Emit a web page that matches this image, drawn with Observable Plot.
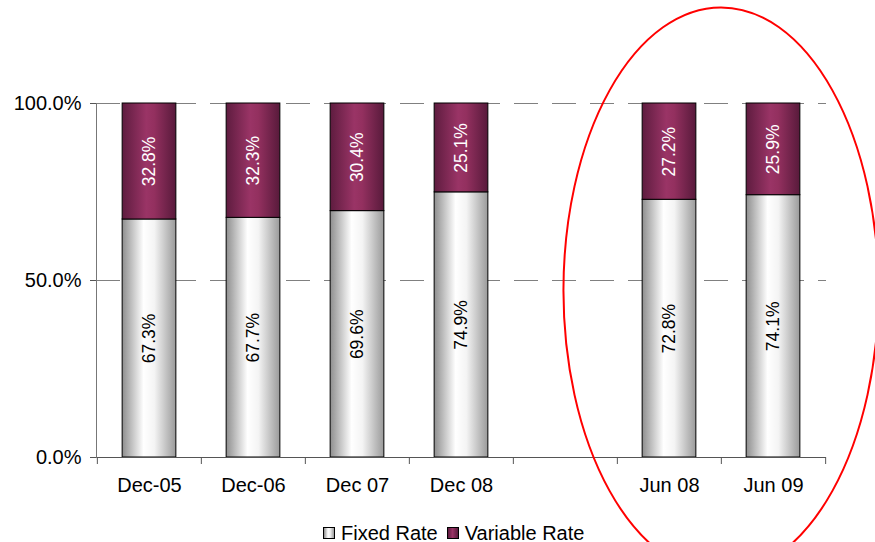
<!DOCTYPE html>
<html><head><meta charset="utf-8">
<script src="https://cdn.jsdelivr.net/npm/d3@7"></script>
<script src="https://cdn.jsdelivr.net/npm/@observablehq/plot@0.6"></script>
<style>
html,body{margin:0;padding:0;background:#fff;}
body{width:875px;height:542px;position:relative;overflow:hidden;font-family:"Liberation Sans",Arial,sans-serif;}
#chart svg{overflow:visible;display:block;}
.legend{position:absolute;left:323px;top:520px;height:26px;display:flex;align-items:center;font-size:20px;color:#000;white-space:nowrap;}
.legend .sw{width:10px;height:10px;border:1px solid #000;margin-right:6px;}
.legend .item{display:flex;align-items:center;margin-right:9px;}
</style></head><body>
<div id="chart"></div>
<div class="legend" id="legend"></div>
<script>
// ---- data ----
const categories = ["Dec-05", "Dec-06", "Dec 07", "Dec 08", "", "Jun 08", "Jun 09"];
const fixedRate = [67.3, 67.7, 69.6, 74.9, null, 72.8, 74.1];
const variableRate = [32.8, 32.3, 30.4, 25.1, null, 27.2, 25.9];
const seriesNames = ["Fixed Rate", "Variable Rate"];
const yTicks = [0, 0.5, 1];
const gridTicks = [0.5, 1];
// highlight annotation (data units): centred on the Jun 08 / Jun 09 boundary
const highlight = {between: ["Jun 08", "Jun 09"], y: 0.47, ryUnits: 0.8, rxBands: 1.515};

// ---- layout ----
const W = 875, H = 515, mL = 96, mR = 49, mT = 103, mB = 58;
const step = (W - mL - mR) / categories.length;
const barW = 54;
const inset = (step - barW) / 2;

const rows = [];
categories.forEach((c, i) => {
  if (fixedRate[i] == null) return;
  const tot = fixedRate[i] + variableRate[i];
  const f = fixedRate[i] / tot;
  rows.push({cat: c, series: seriesNames[0], value: fixedRate[i], y1: 0, y2: f});
  rows.push({cat: c, series: seriesNames[1], value: variableRate[i], y1: f, y2: 1});
});
const fixedRows = rows.filter(d => d.series === seriesNames[0]);
const varRows = rows.filter(d => d.series === seriesNames[1]);

const boundaries = categories.map((c, i) => ({cat: c, dx: -step / 2}))
  .concat([{cat: categories[categories.length - 1], dx: step / 2}]);

const chart = Plot.plot({
  width: W, height: H,
  marginLeft: mL, marginRight: mR, marginTop: mT, marginBottom: mB,
  style: {fontFamily: "'Liberation Sans', Arial, sans-serif", background: "transparent", overflow: "visible"},
  x: {type: "band", domain: categories, padding: 0},
  y: {domain: [0, 1]},
  marks: [
    Plot.ruleY(gridTicks, {stroke: "#808080", strokeWidth: 1, strokeDasharray: "24,14"}),
    Plot.rectY(fixedRows, {x: "cat", y1: "y1", y2: "y2", fill: "url(#gFixed)", stroke: "#000", strokeWidth: 1, insetLeft: inset, insetRight: inset}),
    Plot.rectY(varRows, {x: "cat", y1: "y1", y2: "y2", fill: "url(#gVar)", stroke: "#000", strokeWidth: 1, insetLeft: inset, insetRight: inset}),
    Plot.text(fixedRows, {x: "cat", y: d => (d.y1 + d.y2) / 2, text: d => d.value.toFixed(1) + "%", rotate: -90, fill: "#000", fontSize: 17.5}),
    Plot.text(varRows, {x: "cat", y: d => (d.y1 + d.y2) / 2, text: d => d.value.toFixed(1) + "%", rotate: -90, fill: "#fff", fontSize: 17.5}),
    Plot.ruleY([0], {stroke: "#555", strokeWidth: 1}),
    Plot.frame({anchor: "left", stroke: "#777"}),
    ...boundaries.map(b => Plot.ruleX([b.cat], {y1: 0, y2: 0, insetBottom: -7, dx: b.dx, stroke: "#555"})),
    Plot.axisX({tickSize: 0, tickPadding: 20, fontSize: 20, fill: "#000", label: null}),
    Plot.axisY({ticks: yTicks, tickFormat: d3.format(".1%"), tickSize: 6, tickPadding: 9, fontSize: 20, fill: "#000", stroke: "#555", label: null})
  ]
});

const svg = d3.select(chart);
const defs = svg.insert("defs", ":first-child");
const gF = defs.append("linearGradient").attr("id", "gFixed").attr("x1", "0").attr("x2", "1").attr("y1", "0").attr("y2", "0");
[["0%", "#8e8e8e"], ["40%", "#ffffff"], ["60%", "#f4f4f4"], ["100%", "#9a9a9a"]].forEach(([o, c]) => gF.append("stop").attr("offset", o).attr("stop-color", c));
const gV = defs.append("linearGradient").attr("id", "gVar").attr("x1", "0").attr("x2", "1").attr("y1", "0").attr("y2", "0");
[["0%", "#5e1c3f"], ["45%", "#9a3466"], ["60%", "#93305f"], ["100%", "#581a3b"]].forEach(([o, c]) => gV.append("stop").attr("offset", o).attr("stop-color", c));

// highlight ellipse using the chart's scales
const xs = chart.scale("x"), ys = chart.scale("y");
const cx = xs.apply(highlight.between[1]);
const cy = ys.apply(highlight.y);
const ry = ys.apply(highlight.y - highlight.ryUnits) - cy;
const rx = highlight.rxBands * xs.bandwidth;
svg.append("ellipse").attr("cx", cx).attr("cy", cy).attr("rx", rx).attr("ry", ry)
  .attr("fill", "none").attr("stroke", "#ff0000").attr("stroke-width", 2);

document.getElementById("chart").appendChild(chart);

// legend
const legend = d3.select("#legend");
const swatches = ["linear-gradient(to right,#8e8e8e,#fff 40%,#f4f4f4 60%,#9a9a9a)", "linear-gradient(to right,#5e1c3f,#9a3466 45%,#581a3b)"];
seriesNames.forEach((s, i) => {
  const it = legend.append("div").attr("class", "item");
  it.append("div").attr("class", "sw").style("background", swatches[i]);
  it.append("span").text(s);
});
</script>
</body></html>
